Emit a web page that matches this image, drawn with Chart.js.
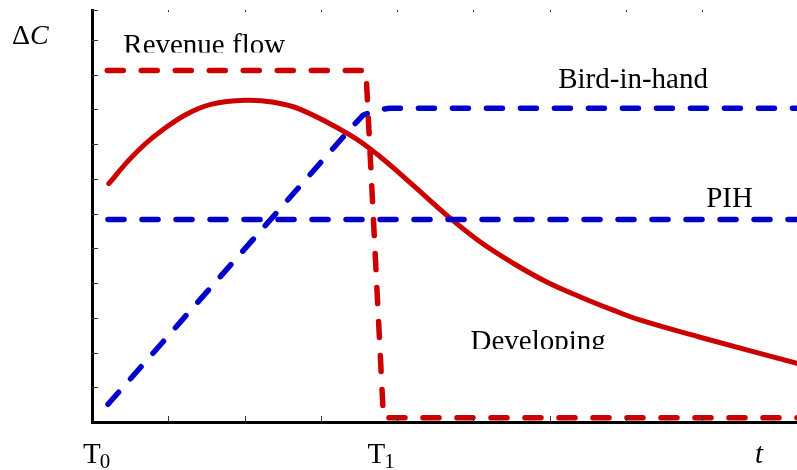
<!DOCTYPE html>
<html>
<head>
<meta charset="utf-8">
<script src="https://cdn.jsdelivr.net/npm/chart.js@4/dist/chart.umd.min.js"></script>
<style>
  html, body { margin: 0; padding: 0; background: #fff; }
  #wrap { width: 797px; height: 470px; }
</style>
</head>
<body>
<div id="wrap"><canvas id="ch" width="797" height="470"></canvas></div>
<script>
// curves (x in tick units from T0, y in tick units)
const revenueX = [0.20, 3.59, 3.82, 9.24];
const revenueY = [10.12, 10.12, 0.12, 0.12];

const birdX = [0.21, 3.39, 3.55, 3.72, 3.90, 9.24];
const birdY = [0.51, 8.45, 8.83, 8.98, 9.03, 9.03];

const pihX = [0.21, 9.24];
const pihY = [5.83, 5.83];

const devX = [0.22, 0.48, 0.70, 0.92, 1.24, 1.57, 2.01, 2.36, 2.73, 3.39, 3.78, 4.21, 4.65, 5.09, 5.52, 5.96, 6.40, 6.83, 7.19, 7.97, 9.24];
const devY = [6.86, 7.53, 8.01, 8.40, 8.86, 9.15, 9.26, 9.21, 9.00, 8.25, 7.63, 6.81, 5.95, 5.18, 4.57, 4.03, 3.60, 3.22, 2.93, 2.44, 1.69];

const xTickLabels = ['T0', 'T1', 't'];
const curveNames = ['Revenue flow', 'Bird-in-hand', 'PIH', 'Developing'];

const RED = '#cc0000';
const BLUE = '#0000cc';
const SERIF = '"Liberation Serif", "Times New Roman", serif';

const pts = (xs, ys) => xs.map((x, i) => ({ x: x, y: ys[i] }));

// where the curve names sit (data units, left/baseline) and where they are cut off
const nameSpots = [
  { x: 0.41, y: 10.58, clip: 10.64 },
  { x: 6.11, y: 9.61 },
  { x: 8.05, y: 6.18 },
  { x: 4.96, y: 2.07, clip: 2.10 }
];
const tickSpots = [0, 3.61, 8.69];

const decor = {
  id: 'decor',
  afterDraw(chart) {
    const { ctx, chartArea: a, scales: { x, y } } = chart;
    ctx.save();
    // inner tick marks
    ctx.strokeStyle = '#333';
    ctx.lineWidth = 1;
    y.ticks.forEach(t => {
      if (t.value <= 0) return;
      const py = Math.round(y.getPixelForValue(t.value)) + 0.5;
      ctx.beginPath(); ctx.moveTo(a.left, py); ctx.lineTo(a.left + 6, py); ctx.stroke();
    });
    x.ticks.forEach(t => {
      if (t.value <= 0) return;
      const px = Math.round(x.getPixelForValue(t.value)) + 0.5;
      ctx.beginPath(); ctx.moveTo(px, a.bottom); ctx.lineTo(px, a.bottom - 6); ctx.stroke();
      ctx.beginPath(); ctx.moveTo(px, a.top); ctx.lineTo(px, a.top + 2); ctx.stroke();
    });

    ctx.fillStyle = '#000';
    ctx.textBaseline = 'alphabetic';
    ctx.textAlign = 'left';

    // curve names
    ctx.font = '29px ' + SERIF;
    curveNames.forEach((n, i) => {
      const s = nameSpots[i];
      const px = x.getPixelForValue(s.x), py = y.getPixelForValue(s.y);
      ctx.save();
      if (s.clip != null) {
        ctx.beginPath();
        ctx.rect(0, 0, chart.width, y.getPixelForValue(s.clip));
        ctx.clip();
      }
      ctx.fillText(n, px, py);
      ctx.restore();
    });

    // x labels T0, T1, t
    const by = a.bottom + 41;
    xTickLabels.forEach((lab, i) => {
      const px = x.getPixelForValue(tickSpots[i]) - (i === 0 ? 9 : 0);
      if (lab === 't') {
        ctx.font = 'italic 29px ' + SERIF;
        ctx.fillText(lab, px, by);
      } else {
        ctx.font = '29px ' + SERIF;
        ctx.fillText(lab[0], px, by);
        const w = ctx.measureText(lab[0]).width;
        ctx.font = '21px ' + SERIF;
        ctx.fillText(lab.slice(1), px + w - 1, by + 5);
      }
    });

    // y label ΔC
    ctx.font = '28px ' + SERIF;
    const lx = a.left - 80, ly = a.top + 34;
    ctx.fillText('\u0394', lx, ly);
    const dw = ctx.measureText('\u0394').width;
    ctx.font = 'italic 28px ' + SERIF;
    ctx.fillText('C', lx + dw, ly);
    ctx.restore();
  }
};

const line = (data, color, dashed, extra) => Object.assign({
  data: data,
  borderColor: color,
  borderWidth: dashed ? 5.5 : 5,
  borderDash: dashed ? [16, 18] : [],
  borderCapStyle: 'round',
  borderJoinStyle: 'round',
  pointRadius: 0,
  fill: false,
  tension: 0
}, extra || {});

new Chart(document.getElementById('ch'), {
  type: 'line',
  data: {
    datasets: [
      line(pts(pihX, pihY), BLUE, true),
      line(pts(birdX, birdY), BLUE, true),
      line(pts(devX, devY), RED, false, { tension: 0.4 }),
      line(pts(revenueX, revenueY), RED, true)
    ]
  },
  options: {
    responsive: false,
    animation: false,
    layout: { padding: { left: 92, top: 10, right: 0, bottom: 48 } },
    plugins: { legend: { display: false }, tooltip: { enabled: false } },
    scales: {
      x: {
        type: 'linear', min: 0, max: 9.24,
        ticks: { display: false, stepSize: 1 },
        grid: { display: false, drawTicks: false },
        border: { display: true, color: '#000', width: 3 },
        afterFit: s => { s.height = 0; }
      },
      y: {
        type: 'linear', min: 0, max: 11.86,
        ticks: { display: false, stepSize: 1 },
        grid: { display: false, drawTicks: false },
        border: { display: true, color: '#000', width: 3 },
        afterFit: s => { s.width = 0; }
      }
    }
  },
  plugins: [decor]
});
</script>
</body>
</html>
